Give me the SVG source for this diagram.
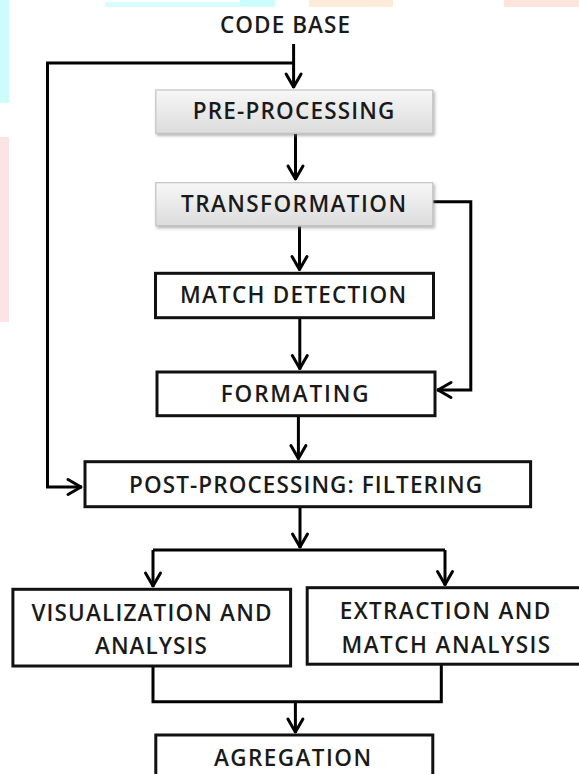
<svg xmlns="http://www.w3.org/2000/svg" width="579" height="774" viewBox="0 0 579 774">
<defs>
<linearGradient id="gray" x1="0" y1="0" x2="0" y2="1">
<stop offset="0" stop-color="#f7f7f7"/>
<stop offset="1" stop-color="#dcdcdc"/>
</linearGradient>
<filter id="sh" x="-10%" y="-20%" width="120%" height="150%">
<feDropShadow dx="1.5" dy="2" stdDeviation="1.5" flood-color="#777" flood-opacity="0.55"/>
</filter>
<marker id="ah" markerUnits="userSpaceOnUse" markerWidth="30" markerHeight="30" refX="1" refY="0" orient="auto" overflow="visible">
<path d="M-13,-7.5 L0,0 L-13,7.5" fill="none" stroke="#000" stroke-width="3" stroke-linejoin="round" stroke-linecap="round"/>
</marker>
</defs>
<style>
.t{font-family:"Open Sans","Liberation Sans",sans-serif;font-weight:600;font-size:22.5px;fill:#1a1a1a}
.b{fill:#fff;stroke:#111;stroke-width:3}
.g{fill:url(#gray);stroke:#c4c4c4;stroke-width:1.2}
.c{fill:none;stroke:#000;stroke-width:3}
</style>
<rect width="579" height="774" fill="#fff"/>
<g id="watermark">
<rect x="0" y="0" width="9" height="103" fill="#ccfcfc"/>
<rect x="0" y="137" width="9" height="185" fill="#fde4e4"/>
<rect x="105" y="2" width="135" height="5" fill="#d7fdfd"/>
<rect x="240" y="0" width="35" height="7" fill="#ccfcfc"/>
<rect x="309" y="0" width="84" height="7" fill="#fdebd9"/>
<rect x="504" y="0" width="75" height="7" fill="#fde4dc"/>
</g>
<g id="connectors">
<path class="c" d="M293.6 44 V88" marker-end="url(#ah)"/>
<path class="c" d="M293.6 63 H47.5 V487 H82" marker-end="url(#ah)"/>
<path class="c" d="M295.5 134 V180" marker-end="url(#ah)"/>
<path class="c" d="M299.5 226.5 V270.5" stroke-width="4" marker-end="url(#ah)"/>
<path class="c" d="M299.8 318 V369.5" stroke-width="4" marker-end="url(#ah)"/>
<path class="c" d="M433 201.7 H470.8 V390 H437" marker-end="url(#ah)"/>
<path class="c" d="M298.4 416 V459.5" marker-end="url(#ah)"/>
<path class="c" d="M300 507 V548" marker-end="url(#ah)"/>
<path class="c" d="M153 550 H445"/>
<path class="c" d="M153 550 V587" marker-end="url(#ah)"/>
<path class="c" d="M445 550 V585.5" marker-end="url(#ah)"/>
<path class="c" d="M153 666 V701.7 H441.3 V664"/>
<path class="c" d="M295.4 701.7 V733" marker-end="url(#ah)"/>
</g>
<g id="code-base">
<text class="t" x="220" y="32.7" font-size="21" textLength="130" lengthAdjust="spacing">CODE BASE</text>
</g>
<g id="pre-processing">
<rect class="g" x="155.8" y="90" width="277" height="43.3" filter="url(#sh)"/>
<text class="t" x="192.8" y="119" textLength="201.6" lengthAdjust="spacing">PRE-PROCESSING</text>
</g>
<g id="transformation">
<rect class="g" x="155.8" y="182.7" width="277" height="43" filter="url(#sh)"/>
<text class="t" x="181" y="212.3" textLength="225" lengthAdjust="spacing">TRANSFORMATION</text>
</g>
<g id="match-detection">
<rect class="b" x="155.5" y="273.3" width="278" height="44.4"/>
<text class="t" x="180" y="303.3" textLength="226" lengthAdjust="spacing">MATCH DETECTION</text>
</g>
<g id="formating">
<rect class="b" x="157" y="372" width="278" height="43.7"/>
<text class="t" x="220.8" y="402.3" textLength="147.7" lengthAdjust="spacing">FORMATING</text>
</g>
<g id="post-processing">
<rect class="b" x="85" y="461.7" width="445.6" height="45"/>
<text class="t" x="129" y="493.3" textLength="353" lengthAdjust="spacing">POST-PROCESSING: FILTERING</text>
</g>
<g id="visualization">
<rect class="b" x="12.9" y="589.3" width="277.7" height="76.7"/>
<text class="t" x="31.4" y="621" textLength="240" lengthAdjust="spacing">VISUALIZATION AND</text>
<text class="t" x="95" y="654.3" textLength="111.8" lengthAdjust="spacing">ANALYSIS</text>
</g>
<g id="extraction">
<rect class="b" x="307.2" y="587.7" width="275" height="76.5"/>
<text class="t" x="339.7" y="619" textLength="210.5" lengthAdjust="spacing">EXTRACTION AND</text>
<text class="t" x="341.6" y="652.7" textLength="208.6" lengthAdjust="spacing">MATCH ANALYSIS</text>
</g>
<g id="agregation">
<rect class="b" x="155.8" y="735" width="277" height="50"/>
<text class="t" x="214" y="766" textLength="157" lengthAdjust="spacing">AGREGATION</text>
</g>
</svg>
